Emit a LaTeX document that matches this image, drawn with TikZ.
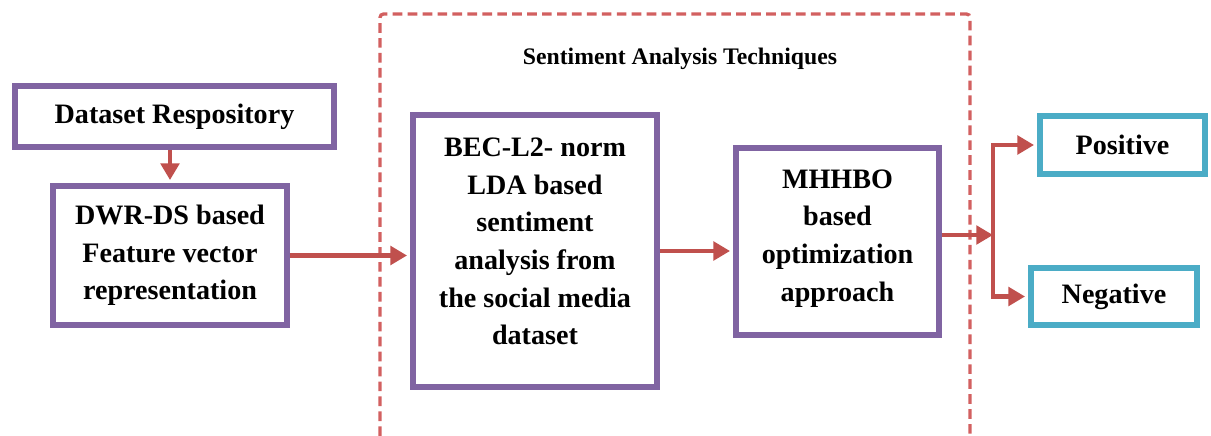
\documentclass[tikz,border=0pt]{standalone}
\usepackage{fontspec}
\setmainfont{Liberation Serif}
\usepackage{tikz}
\usetikzlibrary{arrows.meta,positioning}
\definecolor{SApurple}{RGB}{128,100,162}
\definecolor{SAred}{RGB}{192,80,77}
\definecolor{SAdash}{RGB}{210,96,96}
\definecolor{SAteal}{RGB}{75,172,198}
\tikzstyle{stage}=[draw=SApurple,line width=3.4pt,inner sep=0pt,align=center,font=\fontsize{16}{21.4}\selectfont\bfseries]
\tikzstyle{result}=[stage,draw=SAteal]
\tikzstyle{flow}=[SAred,line width=2.3pt,shorten >=1.7pt]

\begin{document}
\begin{tikzpicture}[x=0.02cm,y=-0.02cm,>={Triangle[length=9.5pt,width=10.5pt]}]

  \useasboundingbox (0,0) rectangle (1211,436);

  % techniques frame
  \draw[SAdash,line width=1.9pt,dash pattern=on 5.5pt off 3pt,rounded corners=2pt] (380,436) -- (380,14) -- (970,14) -- (970,436);
  \node[font=\fontsize{13.5}{16}\selectfont\bfseries] (title) at (680,59) {Sentiment Analysis Techniques};

  % input side
  \node[stage,minimum width=6.38cm,minimum height=1.22cm] (repo) at (174.5,116.5) {Dataset Respository};
  \node[stage,minimum width=4.68cm,minimum height=2.78cm] (dwr) at (170,255.5) {DWR-DS based\\Feature vector\\representation};

  % techniques
  \node[stage,minimum width=4.88cm,minimum height=5.44cm,text depth=11pt] (bec) at (535,251) {BEC-L2- norm\\LDA based\\sentiment\\analysis from\\the social media\\dataset};
  \node[stage,minimum width=4.06cm,minimum height=3.74cm,text depth=7pt] (mhh) at (837.5,241.5) {MHHBO\\based\\optimization\\approach};

  % outputs
  \node[result,minimum width=3.3cm,minimum height=1.16cm] (pos) at (1122.5,145) {Positive};
  \node[result,minimum width=3.32cm,minimum height=1.14cm] (neg) at (1114,296.5) {Negative};

  % arrows
  \draw[flow,->] (dwr.north |- repo.south) -- (dwr.north);
  \draw[flow,->] (dwr.east) -- (dwr.east -| bec.west);
  \draw[flow,->] (bec.east) -- (bec.east -| mhh.west);
  \coordinate (split) at (993,235);
  \draw[flow,->,shorten >=0pt] (mhh.east |- split) -- (split);
  \draw[flow,->] (split) |- (pos.west);
  \draw[flow,->] (split) |- (neg.west);

\end{tikzpicture}
\end{document}
